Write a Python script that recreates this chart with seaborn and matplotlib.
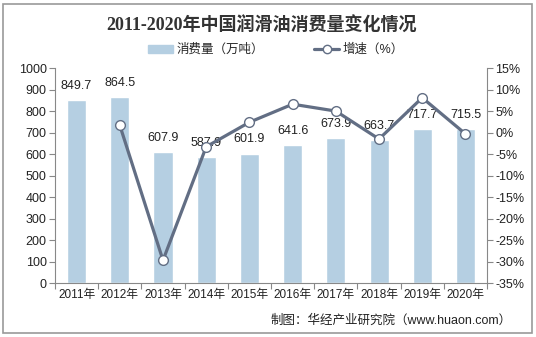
import numpy as np
import pandas as pd
import matplotlib
matplotlib.use("Agg")
import matplotlib.pyplot as plt
import matplotlib.patches as mpatches
from matplotlib.lines import Line2D
import seaborn as sns

years = ["2011年", "2012年", "2013年", "2014年", "2015年", "2016年", "2017年", "2018年", "2019年", "2020年"]
consumption = [849.7, 864.5, 607.9, 587.9, 601.9, 641.6, 673.9, 663.7, 717.7, 715.5]
growth = [np.nan, 1.7, -29.7, -3.3, 2.4, 6.6, 5.0, -1.5, 8.1, -0.3]
left_ticks = [0, 100, 200, 300, 400, 500, 600, 700, 800, 900, 1000]
right_ticks = [-35, -30, -25, -20, -15, -10, -5, 0, 5, 10, 15]

sns.set_theme(style="white")
FAM = ['Liberation Sans', 'Noto Sans CJK SC', 'DejaVu Sans']
plt.rcParams['font.family'] = FAM

bar_color = "#b5cfe2"
line_color = "#626e84"
text_color = "#222222"

fig = plt.figure(figsize=(5.36, 3.37), dpi=100)
ax = fig.add_axes([0.1026, 0.160, 0.806, 0.638])

df = pd.DataFrame({"year": years, "consumption": consumption, "growth": growth})
df["pos"] = np.arange(len(years))

sns.barplot(data=df, x="year", y="consumption", color=bar_color, width=0.44,
            saturation=1, ax=ax)
ax.set_ylim(0, 1000)
ax.set_xlim(-0.5, len(years) - 0.5)
ax.set_yticks(left_ticks)
ax.set_yticklabels([str(t) for t in left_ticks], fontsize=9, color=text_color)
ax.set_xticks(range(len(years)))
ax.set_xticklabels(years, fontsize=8.5, color=text_color)
ax.set_xlabel("")
ax.set_ylabel("")
ax.tick_params(axis="x", length=0, pad=4)
ax.tick_params(axis="y", length=4, width=0.8, color="#888888", direction="out", left=True, pad=2)
ax.set_xticks(np.arange(-0.5, len(years), 1.0), minor=True)
ax.tick_params(axis="x", which="minor", length=4, width=0.8, color="#888888", direction="out", bottom=True)

for i, v in enumerate(consumption):
    ax.text(i, v + 38, f"{v}", ha="center", va="bottom", fontsize=9, color=text_color)

for s in ["top", "right"]:
    ax.spines[s].set_visible(False)
for s in ["left", "bottom"]:
    ax.spines[s].set_color("#888888")
    ax.spines[s].set_linewidth(0.8)

ax2 = ax.twinx()
dline = df.dropna(subset=["growth"])
sns.lineplot(data=dline, x="pos", y="growth", color=line_color, linewidth=2.3,
             marker="o", markersize=7, markerfacecolor="white",
             markeredgecolor=line_color, markeredgewidth=1.0, ax=ax2, zorder=5)
ax2.set_ylim(-35, 15)
ax2.set_xlim(-0.5, len(years) - 0.5)
ax2.set_yticks(right_ticks)
ax2.set_yticklabels([f"{t}%" for t in right_ticks], fontsize=9, color=text_color)
ax2.set_ylabel("")
ax2.set_xlabel("")
ax2.tick_params(axis="y", length=4, width=0.8, color="#888888", direction="out", right=True, pad=2)
for s in ["top", "left", "bottom"]:
    ax2.spines[s].set_visible(False)
ax2.spines["right"].set_color("#888888")
ax2.spines["right"].set_linewidth(0.8)
ax2.grid(False)
ax.grid(False)

fig.text(0.487, 0.925, "2011-2020年中国润滑油消费量变化情况", ha="center", va="center",
         fontsize=13, fontweight="bold", color="#333333",
         family=['Liberation Serif', 'Noto Sans CJK SC', 'DejaVu Sans'])

handles = [mpatches.Patch(color=bar_color, label="消费量（万吨）"),
           Line2D([0], [0], color=line_color, linewidth=2.3, marker="o", markersize=6,
                  markerfacecolor="white", markeredgecolor=line_color, label="增速（%）")]
fig.legend(handles=handles, loc="center", bbox_to_anchor=(0.515, 0.852), ncol=2,
           frameon=False, fontsize=9, handlelength=2.0, handleheight=0.6,
           columnspacing=4.0, handletextpad=0.3)

fig.text(0.955, 0.048, "制图：华经产业研究院（www.huaon.com）", ha="right", va="center",
         fontsize=9, color=text_color)

fig.patches.append(mpatches.Rectangle((0.005, 0.012), 0.988, 0.976, transform=fig.transFigure,
                                      fill=False, edgecolor="#999999", linewidth=1.2))

fig.savefig("out.png", dpi=100)
